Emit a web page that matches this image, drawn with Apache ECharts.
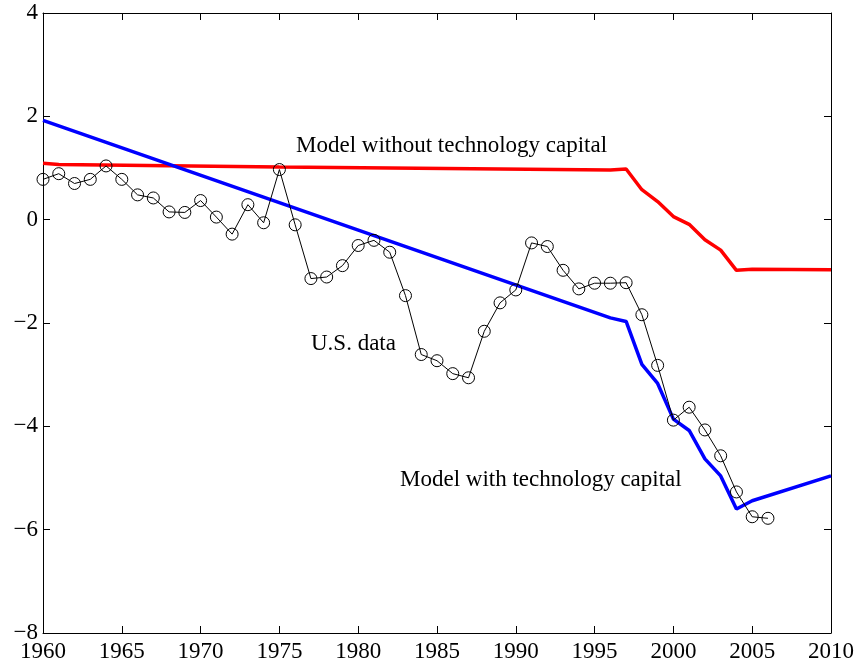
<!DOCTYPE html>
<html><head><meta charset="utf-8">
<script src="https://cdn.jsdelivr.net/npm/echarts@6/dist/echarts.min.js"></script>
<style>html,body{margin:0;padding:0;background:#fff}#c{width:858px;height:668px}</style>
</head><body><div id="c"></div>
<script>
const usYears = [1960,1961,1962,1963,1964,1965,1966,1967,1968,1969,1970,1971,1972,1973,1974,1975,1976,1977,1978,1979,1980,1981,1982,1983,1984,1985,1986,1987,1988,1989,1990,1991,1992,1993,1994,1995,1996,1997,1998,1999,2000,2001,2002,2003,2004,2005,2006];
const usData = [0.78,0.89,0.70,0.78,1.04,0.78,0.48,0.42,0.15,0.14,0.37,0.05,-0.28,0.29,-0.06,0.97,-0.10,-1.14,-1.11,-0.89,-0.50,-0.40,-0.63,-1.47,-2.61,-2.73,-2.98,-3.06,-2.16,-1.61,-1.36,-0.45,-0.52,-0.98,-1.34,-1.23,-1.23,-1.22,-1.84,-2.82,-3.88,-3.63,-4.07,-4.57,-5.27,-5.75,-5.78];
const withYears = [1960,1996,1997,1998,1999,2000,2001,2002,2003,2004,2005,2010];
const withData = [1.92,-1.90,-1.97,-2.80,-3.17,-3.86,-4.08,-4.63,-4.96,-5.60,-5.44,-4.96];
const withoutYears = [1960,1961,1975,1996,1997,1998,1999,2000,2001,2002,2003,2004,2005,2010];
const withoutData = [1.09,1.07,1.02,0.96,0.98,0.58,0.35,0.06,-0.09,-0.39,-0.59,-0.98,-0.96,-0.97];
const xTicks = [1960,1965,1970,1975,1980,1985,1990,1995,2000,2005,2010];
const yTicks = [-8,-6,-4,-2,0,2,4];
const labels = {without:'Model without technology capital', us:'U.S. data', with:'Model with technology capital'};

const zip = (xs, ys) => xs.map((x,i)=>[x, ys[i]]);
const font = 'Liberation Serif';
const chart = echarts.init(document.getElementById('c'), null, {renderer:'canvas'});
const axisBase = {
  axisLine:{show:true, onZero:false, lineStyle:{color:'#000', width:1}},
  axisTick:{show:true, inside:true, length:7, lineStyle:{color:'#000'}},
  splitLine:{show:false}
};
chart.setOption({
  animation:false,
  grid:{left:43, right:27, top:13, bottom:35, containLabel:false},
  xAxis:[
    Object.assign({type:'value', min:1960, max:2010, interval:5, position:'bottom',
      axisLabel:{color:'#000', fontFamily:font, fontSize:23, margin:7,
        formatter:v=>xTicks.includes(v)?String(v):''}}, axisBase),
    Object.assign({type:'value', min:1960, max:2010, interval:5, position:'top',
      axisLabel:{show:false}}, axisBase)
  ],
  yAxis:[
    Object.assign({type:'value', min:-8, max:4, interval:2, position:'left',
      axisLabel:{color:'#000', fontFamily:font, fontSize:23, margin:5,
        formatter:v=>yTicks.includes(v)?String(v).replace('-','\u2212'):''}}, axisBase),
    Object.assign({type:'value', min:-8, max:4, interval:2, position:'right',
      axisLabel:{show:false}}, axisBase)
  ],
  series:[
    {type:'line', data:zip(withoutYears, withoutData), showSymbol:false, symbol:'none',
      lineStyle:{color:'#ff0000', width:3.5}, z:2},
    {type:'line', data:zip(withYears, withData), showSymbol:false, symbol:'none',
      lineStyle:{color:'#0000ff', width:3.5}, z:3},
    {type:'line', data:zip(usYears, usData), symbol:'circle', symbolSize:12,
      itemStyle:{color:'rgba(0,0,0,0)', borderColor:'#000', borderWidth:1},
      lineStyle:{color:'#000', width:1}, z:4}
  ],
  graphic:[
    {type:'text', left:296, top:134, style:{text:labels.without, fill:'#000', font:'23px "Liberation Serif"'}},
    {type:'text', left:311, top:332, style:{text:labels.us, fill:'#000', font:'23px "Liberation Serif"'}},
    {type:'text', left:400, top:468, style:{text:labels.with, fill:'#000', font:'23px "Liberation Serif"'}}
  ]
});
</script></body></html>
